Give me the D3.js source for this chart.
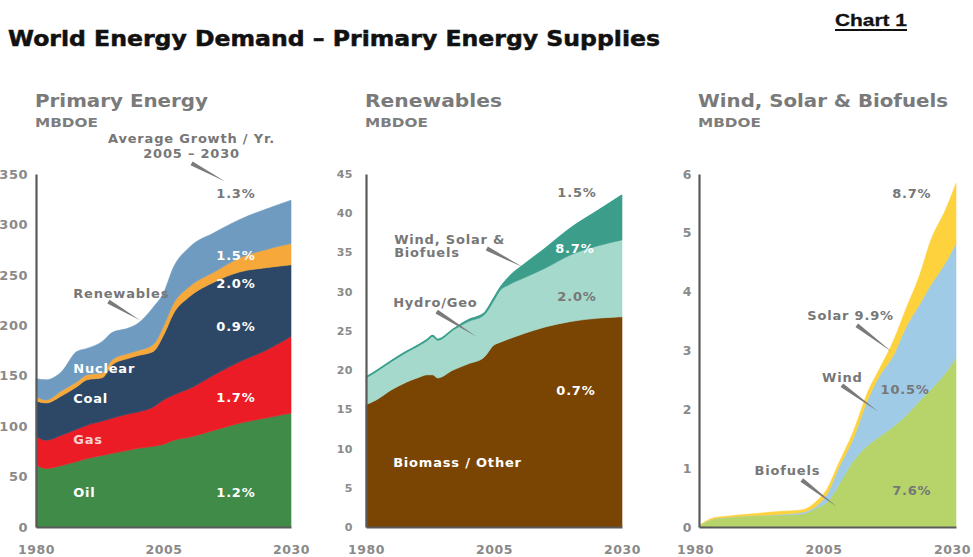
<!DOCTYPE html>
<html>
<head>
<meta charset="utf-8">
<script src="https://cdn.jsdelivr.net/npm/d3@7"></script>
<style>
  body { margin: 0; background: #fff; }
  svg text { font-family: "DejaVu Sans", sans-serif; font-weight: bold; }
</style>
</head>
<body>
<div id="chart"></div>
<script>
// ---- Primary energy (MBDOE) ----
const years1 = [1980, 1982, 1985, 1988, 1990, 1993, 1995, 1998, 2000, 2003, 2005, 2007, 2010, 2015, 2020, 2025, 2030];
const oil      = [61.5, 58, 61, 65, 68, 71, 73, 76, 78, 80, 82, 86, 89, 96, 103, 108, 113];
const gas      = [28.5, 28, 30, 32, 33, 34, 35, 36, 36, 39, 44, 45, 48, 55, 61, 67, 76];
const coal     = [35, 37, 39, 42, 45, 43, 53, 55, 56, 55, 64, 81, 91, 92, 89, 82, 71];
const nuclear  = [4, 3, 5, 5, 5, 5, 5, 5, 5, 7, 9, 10, 10, 10, 14, 18, 21];
const renew    = [18, 20, 19, 30, 26, 31, 27, 25, 27, 37, 33, 36, 39, 39, 38, 40, 43];
const ticks1   = [0, 50, 100, 150, 200, 250, 300, 350];

// ---- Renewables (MBDOE) ----
const years2  = [1980, 1982, 1985, 1988, 1990, 1992, 1993, 1994, 1997, 2000, 2003, 2005, 2006, 2008, 2011, 2015, 2020, 2025, 2030];
const biomass = [15.6, 16.2, 17.5, 18.5, 19.0, 19.4, 19.4, 19.0, 20.0, 20.8, 21.6, 23.2, 23.5, 24.0, 24.7, 25.5, 26.2, 26.6, 26.8];
const hydro   = [3.4, 3.6, 3.6, 3.8, 4.0, 4.4, 4.9, 4.8, 5.1, 5.4, 5.4, 5.7, 6.5, 6.9, 7.1, 7.5, 8.5, 9.2, 9.8];
const wsb     = [0.1, 0.1, 0.1, 0.1, 0.1, 0.1, 0.1, 0.1, 0.1, 0.2, 0.2, 0.3, 0.3, 1.0, 1.7, 2.5, 3.4, 4.4, 5.7];
const ticks2  = [0, 5, 10, 15, 20, 25, 30, 35, 40, 45];

// ---- Wind, solar & biofuels (MBDOE) ----
const years3   = [1980, 1983, 1985, 1990, 1995, 2000, 2003, 2005, 2007, 2010, 2013, 2015, 2018, 2020, 2023, 2025, 2028, 2030];
const biofuels = [0.02, 0.14, 0.16, 0.19, 0.20, 0.22, 0.33, 0.43, 0.69, 1.12, 1.40, 1.53, 1.72, 1.87, 2.15, 2.33, 2.62, 2.88];
const wind     = [0, 0, 0, 0, 0.01, 0.03, 0.04, 0.14, 0.28, 0.38, 0.80, 1.02, 1.23, 1.48, 1.65, 1.77, 1.88, 1.94];
const solar    = [0, 0.02, 0.02, 0.03, 0.05, 0.04, 0.08, 0.09, 0.08, 0.12, 0.13, 0.12, 0.25, 0.30, 0.50, 0.75, 0.90, 1.02];
const ticks3   = [0, 1, 2, 3, 4, 5, 6];

const xTicks = [1980, 2005, 2030];

const W = 973, H = 557;
const svg = d3.select("#chart").append("svg")
    .attr("width", W)
    .attr("height", H);

// main title
svg.append("text")
    .attr("x", 8).attr("y", 46)
    .style("font-size", "21px")
    .attr("textLength", 652).attr("lengthAdjust", "spacingAndGlyphs")
    .attr("fill", "#111")
    .attr("stroke", "#111").attr("stroke-width", 0.5)
    .text("World Energy Demand \u2013 Primary Energy Supplies");

svg.append("text")
    .attr("x", 835).attr("y", 26)
    .style("font-family", "'Liberation Sans', Arial, sans-serif")
    .style("font-size", "17px")
    .attr("textLength", 72).attr("lengthAdjust", "spacingAndGlyphs")
    .attr("fill", "#111")
    .attr("stroke", "#111").attr("stroke-width", 0.3)
    .text("Chart 1");
svg.append("line")
    .attr("x1", 835).attr("x2", 907).attr("y1", 30).attr("y2", 30)
    .attr("stroke", "#111").attr("stroke-width", 2);

const panels = [
    {
        title: "Primary Energy", titleW: 173,
        left: 36, right: 291, max: 350, ticks: ticks1, tickFont: 13, tickPad: 8, xShift: 0,
        years: years1,
        keys: ["Oil", "Gas", "Coal", "Nuclear", "Renewables"],
        series: [oil, gas, coal, nuclear, renew],
        colors: ["#3f8b47", "#ec1c27", "#2d4866", "#f6a83a", "#6f9bc0"],
        labels: [
            { t: "Average Growth / Yr.", yr: 2010.5, v: 381, a: "middle", c: "#777" },
            { t: "2005 \u2013 2030", yr: 2010.5, v: 366, a: "middle", c: "#777" },
            { t: "1.3%", yr: 2019.2, v: 326, a: "middle", c: "#777" },
            { t: "1.5%", yr: 2019.2, v: 265, a: "middle", c: "#fff" },
            { t: "2.0%", yr: 2019.2, v: 237, a: "middle", c: "#fff" },
            { t: "0.9%", yr: 2019.2, v: 194, a: "middle", c: "#fff" },
            { t: "1.7%", yr: 2019.2, v: 124, a: "middle", c: "#fff" },
            { t: "1.2%", yr: 2019.2, v: 30, a: "middle", c: "#fff" },
            { t: "Renewables", yr: 1987.3, v: 227, a: "start", c: "#777" },
            { t: "Nuclear", yr: 1987.3, v: 153, a: "start", c: "#fff" },
            { t: "Coal", yr: 1987.3, v: 123, a: "start", c: "#fff" },
            { t: "Gas", yr: 1987.3, v: 82, a: "start", c: "#f7d2d2" },
            { t: "Oil", yr: 1987.3, v: 30, a: "start", c: "#fff" }
        ],
        pointers: [
            [2010.5, 360.5, 2017.1, 342.5],
            [1994.2, 223.5, 2000.4, 205]
        ]
    },
    {
        title: "Renewables", titleW: 137,
        left: 366, right: 622, max: 45, ticks: ticks2, tickFont: 11, tickPad: 13, xShift: 0,
        years: years2,
        keys: ["Biomass / Other", "Hydro / Geo", "Wind, Solar & Biofuels"],
        series: [biomass, hydro, wsb],
        colors: ["#7a4503", "#a5d9cb", "#3c9d8b"],
        topLine: "#3aa08e",
        labels: [
            { t: "1.5%", yr: 2021.2, v: 42.1, a: "middle", c: "#777" },
            { t: "Wind, Solar &", yr: 1985.5, v: 36.1, a: "start", c: "#777" },
            { t: "Biofuels", yr: 1985.5, v: 34.4, a: "start", c: "#777" },
            { t: "8.7%", yr: 2020.8, v: 34.9, a: "middle", c: "#fff" },
            { t: "Hydro/Geo", yr: 1985.3, v: 28.05, a: "start", c: "#777" },
            { t: "2.0%", yr: 2021.2, v: 28.8, a: "middle", c: "#777" },
            { t: "0.7%", yr: 2021.0, v: 16.8, a: "middle", c: "#fff" },
            { t: "Biomass / Other", yr: 1985.3, v: 7.65, a: "start", c: "#fff" }
        ],
        pointers: [
            [2003.6, 35.5, 2010.7, 33.1],
            [1993.8, 27.45, 2001.6, 24.26]
        ]
    },
    {
        title: "Wind, Solar & Biofuels", titleW: 250,
        left: 699, right: 956, max: 6, ticks: ticks3, tickFont: 12.5, tickPad: 7, xShift: -4,
        years: years3,
        keys: ["Biofuels", "Wind", "Solar"],
        series: [biofuels, wind, solar],
        colors: ["#b6d46a", "#9fcbe6", "#fdd23c"],
        labels: [
            { t: "8.7%", yr: 2021.4, v: 5.59, a: "middle", c: "#777" },
            { t: "Solar 9.9%", yr: 2009.5, v: 3.52, a: "middle", c: "#777" },
            { t: "Wind", yr: 2007.9, v: 2.47, a: "middle", c: "#777" },
            { t: "10.5%", yr: 2020.1, v: 2.26, a: "middle", c: "#777" },
            { t: "Biofuels", yr: 1997.2, v: 0.88, a: "middle", c: "#777" },
            { t: "7.6%", yr: 2021.4, v: 0.54, a: "middle", c: "#777" }
        ],
        pointers: [
            [2010.7, 3.43, 2017.5, 2.98],
            [2007.8, 2.41, 2014.9, 1.96],
            [2000.0, 0.80, 2006.8, 0.345]
        ]
    }
];

const yTop = 174, yBottom = 527;

panels.forEach(cfg => {
    const g = svg.append("g");

    const x = d3.scaleLinear().domain([1980, 2030]).range([cfg.left, cfg.right]);
    const y = d3.scaleLinear().domain([0, cfg.max]).range([yBottom, yTop]);

    // titles
    g.append("text")
        .attr("x", cfg.left - 1).attr("y", 107)
        .style("font-size", "17px")
        .attr("textLength", cfg.titleW).attr("lengthAdjust", "spacingAndGlyphs")
        .attr("fill", "#7a7a7a")
        .text(cfg.title);
    g.append("text")
        .attr("x", cfg.left - 1).attr("y", 127)
        .style("font-size", "13px")
        .attr("textLength", 63).attr("lengthAdjust", "spacingAndGlyphs")
        .attr("fill", "#7d7d7d")
        .text("MBDOE");

    // stacked areas
    const rows = cfg.years.map((yr, i) => {
        const r = { year: yr };
        cfg.keys.forEach((k, j) => r[k] = cfg.series[j][i]);
        return r;
    });
    const stacked = d3.stack().keys(cfg.keys)(rows);

    const area = d3.area()
        .x(d => x(d.data.year))
        .y0(d => y(d[0]))
        .y1(d => y(d[1]))
        .curve(d3.curveMonotoneX);

    g.selectAll(".layer")
        .data(stacked)
        .join("path")
        .attr("class", "layer")
        .attr("fill", (d, i) => cfg.colors[i])
        .attr("stroke", (d, i) => cfg.colors[i])
        .attr("stroke-width", 0.6)
        .attr("d", area);

    if (cfg.topLine) {
        const top = stacked[stacked.length - 1];
        g.append("path")
            .datum(top)
            .attr("fill", "none")
            .attr("stroke", cfg.topLine)
            .attr("stroke-width", 1.6)
            .attr("d", d3.line().x(d => x(d.data.year)).y(d => y(d[1])).curve(d3.curveMonotoneX));
    }

    // axes
    const yAxis = g.append("g")
        .attr("transform", `translate(${cfg.left},0)`)
        .call(d3.axisLeft(y).tickValues(cfg.ticks).tickFormat(d3.format("d"))
            .tickSize(0).tickSizeOuter(0).tickPadding(cfg.tickPad));
    const xAxis = g.append("g")
        .attr("transform", `translate(0,${yBottom})`)
        .call(d3.axisBottom(x).tickValues(xTicks).tickFormat(d3.format("d"))
            .tickSize(0).tickSizeOuter(0).tickPadding(18));

    [yAxis, xAxis].forEach(ax => {
        ax.select(".domain").attr("stroke", "#5a5a5a").attr("stroke-width", 2.2);
        ax.selectAll("text")
            .attr("fill", "#8a8a8a")
            .style("font-family", "'DejaVu Sans', sans-serif")
            .style("font-weight", "bold")
            .style("letter-spacing", "0.5px");
    });
    yAxis.selectAll("text").style("font-size", cfg.tickFont + "px");
    xAxis.selectAll("text")
        .attr("dx", cfg.xShift)
        .style("font-size", "12.5px")
        .style("letter-spacing", "0.6px");

    // pointer wedges
    cfg.pointers.forEach(p => {
        const x1 = x(p[0]), y1 = y(p[1]), x2 = x(p[2]), y2 = y(p[3]);
        const len = Math.hypot(x2 - x1, y2 - y1);
        const nx = -(y2 - y1) / len * 2.2, ny = (x2 - x1) / len * 2.2;
        g.append("path")
            .attr("d", `M${x1 + nx},${y1 + ny}L${x1 - nx},${y1 - ny}L${x2},${y2}Z`)
            .attr("fill", "#7a7a7a");
    });

    // annotations
    g.selectAll(".lab")
        .data(cfg.labels)
        .join("text")
        .attr("class", "lab")
        .attr("x", d => x(d.yr))
        .attr("y", d => y(d.v))
        .attr("text-anchor", d => d.a)
        .attr("fill", d => d.c)
        .style("font-size", "13px")
        .style("letter-spacing", "0.8px")
        .text(d => d.t);
});
</script>
</body>
</html>
